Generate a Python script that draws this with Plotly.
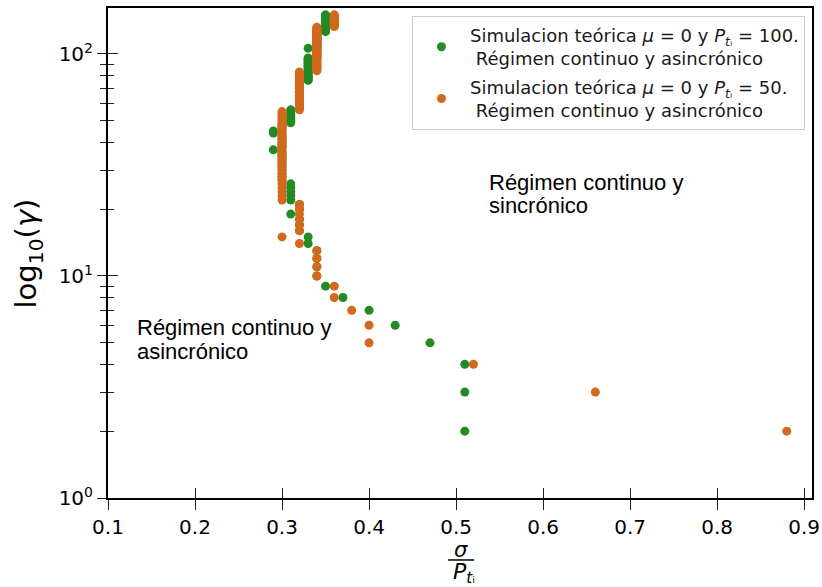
import plotly.graph_objects as go

# Gamma grid shared by both simulations
gamma = [
    2, 3, 4, 5, 6, 7, 8, 9, 10, 11, 12, 13, 14, 15, 16, 17, 18, 19, 20, 21,
    22, 23, 24, 25, 26, 27, 28, 29, 30, 31, 32, 33, 34, 35, 36, 37, 38, 39, 40, 41,
    42, 43, 44, 45, 46, 47, 48, 49, 50, 51, 52, 53, 54, 55, 56, 57, 58, 59, 60, 61,
    62, 63, 64, 65, 66, 67, 68, 69, 70, 71, 72, 73, 74, 75, 76, 77, 78, 79, 80, 81,
    82, 83, 84, 85, 86, 87, 88, 89, 90, 91, 92, 93, 94, 95, 96, 97, 98, 99, 100, 101,
    102, 103, 104, 105, 106, 107, 108, 109, 110, 111, 112, 113, 114, 115, 116, 117, 118, 119, 120, 121,
    122, 123, 124, 125, 126, 127, 128, 129, 130, 131, 132, 133, 134, 135, 136, 137, 138, 139, 140, 141,
    142, 143, 144, 145, 146, 147, 148, 149, 150,
]

# sigma / P_ti threshold for P_ti = 100 (one value per gamma)
ratio_p100 = [
    0.51, 0.51, 0.51, 0.47, 0.43, 0.40, 0.37, 0.35, 0.34, 0.34, 0.34, 0.34, 0.33, 0.33, 0.32, 0.32, 0.32, 0.31, 0.32, 0.32,
    0.31, 0.31, 0.31, 0.31, 0.31, 0.30, 0.30, 0.30, 0.30, 0.30, 0.30, 0.30, 0.30, 0.30, 0.30, 0.29, 0.30, 0.30, 0.30, 0.30,
    0.30, 0.30, 0.29, 0.29, 0.30, 0.30, 0.30, 0.31, 0.31, 0.31, 0.31, 0.31, 0.31, 0.31, 0.31, 0.32, 0.32, 0.32, 0.32, 0.32,
    0.32, 0.32, 0.32, 0.32, 0.32, 0.32, 0.32, 0.32, 0.32, 0.32, 0.32, 0.32, 0.32, 0.32, 0.33, 0.33, 0.33, 0.33, 0.33, 0.33,
    0.33, 0.33, 0.33, 0.33, 0.33, 0.33, 0.33, 0.33, 0.33, 0.33, 0.33, 0.33, 0.33, 0.33, 0.33, 0.34, 0.34, 0.34, 0.34, 0.34,
    0.34, 0.34, 0.34, 0.34, 0.33, 0.34, 0.34, 0.34, 0.34, 0.34, 0.34, 0.34, 0.34, 0.34, 0.34, 0.34, 0.34, 0.34, 0.34, 0.34,
    0.34, 0.34, 0.34, 0.34, 0.35, 0.35, 0.35, 0.35, 0.35, 0.35, 0.35, 0.35, 0.35, 0.35, 0.35, 0.35, 0.35, 0.35, 0.35, 0.35,
    0.35, 0.35, 0.35, 0.35, 0.35, 0.35, 0.35, 0.35, 0.35,
]

# sigma / P_ti threshold for P_ti = 50 (one value per gamma)
ratio_p50 = [
    0.88, 0.66, 0.52, 0.40, 0.40, 0.38, 0.36, 0.36, 0.34, 0.34, 0.34, 0.34, 0.32, 0.30, 0.32, 0.32, 0.32, 0.32, 0.32, 0.32,
    0.30, 0.30, 0.30, 0.30, 0.30, 0.30, 0.30, 0.30, 0.30, 0.30, 0.30, 0.30, 0.30, 0.30, 0.30, 0.30, 0.30, 0.30, 0.30, 0.30,
    0.30, 0.30, 0.30, 0.30, 0.30, 0.30, 0.30, 0.30, 0.30, 0.30, 0.30, 0.30, 0.30, 0.30, 0.32, 0.32, 0.32, 0.32, 0.32, 0.32,
    0.32, 0.32, 0.32, 0.32, 0.32, 0.32, 0.32, 0.32, 0.32, 0.32, 0.32, 0.32, 0.32, 0.32, 0.32, 0.32, 0.32, 0.32, 0.32, 0.32,
    0.32, 0.32, 0.34, 0.34, 0.34, 0.34, 0.34, 0.34, 0.34, 0.34, 0.34, 0.34, 0.34, 0.34, 0.34, 0.34, 0.34, 0.34, 0.34, 0.34,
    0.34, 0.34, 0.34, 0.34, 0.34, 0.34, 0.34, 0.34, 0.34, 0.34, 0.34, 0.34, 0.34, 0.34, 0.34, 0.34, 0.34, 0.34, 0.34, 0.34,
    0.34, 0.34, 0.34, 0.34, 0.34, 0.34, 0.34, 0.34, 0.34, 0.34, 0.34, 0.36, 0.36, 0.36, 0.36, 0.36, 0.36, 0.36, 0.36, 0.36,
    0.36, 0.36, 0.36, 0.36, 0.36, 0.36, 0.36, 0.36, 0.36,
]

x_ticks = [0.1, 0.2, 0.3, 0.4, 0.5, 0.6, 0.7, 0.8, 0.9]
x_tick_labels = ["0.1", "0.2", "0.3", "0.4", "0.5", "0.6", "0.7", "0.8", "0.9"]
y_ticks = [1, 10, 100]
y_tick_labels = ["10<sup>0</sup>", "10<sup>1</sup>", "10<sup>2</sup>"]
y_minor = [2, 3, 4, 5, 6, 7, 8, 9, 20, 30, 40, 50, 60, 70, 80, 90]

GREEN = "#228b22"
ORANGE = "#d2691e"
FONT = "DejaVu Sans"
TEXT_FONT = "Liberation Sans"

X_RANGE = [0.1, 0.909]
Y_RANGE = [0, 2.207]

P_TI = "<i>P</i><sub><i>t</i>ᵢ</sub>"

fig = go.Figure()

fig.add_trace(go.Scatter(
    x=ratio_p100, y=gamma, mode="markers", legendgroup="p100",
    marker=dict(color=GREEN, size=9, line=dict(width=0)),
    name=f"Simulacion teórica <i>μ</i> = 0 y {P_TI} = 100.<br> Régimen continuo y asincrónico",
))
fig.add_trace(go.Scatter(
    x=ratio_p50, y=gamma, mode="markers", legendgroup="p50",
    marker=dict(color=ORANGE, size=9, line=dict(width=0)),
    name=f"Simulacion teórica <i>μ</i> = 0 y {P_TI} = 50.<br> Régimen continuo y asincrónico",
))
# empty trace that carries the inner tick axes
fig.add_trace(go.Scatter(x=[], y=[], xaxis="x2", yaxis="y2", showlegend=False, hoverinfo="skip"))

tick_font = dict(family=FONT, size=20, color="black")

fig.update_layout(
    width=822, height=587,
    margin=dict(l=108, r=10, t=8, b=89, autoexpand=False),
    paper_bgcolor="white", plot_bgcolor="white",
    font=dict(family=FONT, color="black"),
    xaxis=dict(
        range=X_RANGE, tickvals=x_ticks, ticktext=x_tick_labels, automargin=False,
        ticks="outside", ticklen=10, tickwidth=1, tickcolor="#222",
        showline=True, linecolor="black", linewidth=2, mirror=True,
        showgrid=False, zeroline=False, tickfont=tick_font,
    ),
    xaxis2=dict(
        overlaying="x", anchor="y2", side="bottom", range=X_RANGE, tickvals=x_ticks,
        ticks="inside", ticklen=10, tickwidth=1, tickcolor="#222", automargin=False,
        showticklabels=False, showline=False, showgrid=False, zeroline=False,
    ),
    yaxis=dict(
        type="log", range=Y_RANGE, tickvals=y_ticks, ticktext=y_tick_labels, automargin=False,
        ticks="outside", ticklen=9, tickwidth=1, tickcolor="#222",
        minor=dict(ticks="outside", ticklen=6, tickwidth=1, tickcolor="#222",
                   tickvals=y_minor, showgrid=False),
        showline=True, linecolor="black", linewidth=2, mirror=True,
        showgrid=False, zeroline=False, tickfont=tick_font,
    ),
    yaxis2=dict(
        type="log", overlaying="y", anchor="x2", side="left", range=Y_RANGE, tickvals=y_ticks,
        ticks="inside", ticklen=10, tickwidth=1, tickcolor="#222", automargin=False,
        minor=dict(ticks="inside", ticklen=6, tickwidth=1, tickcolor="#222",
                   tickvals=y_minor, showgrid=False),
        showticklabels=False, showline=False, showgrid=False, zeroline=False,
    ),
    legend=dict(
        x=0.990, y=0.984, xanchor="right", yanchor="top",
        bgcolor="white", bordercolor="#cccccc", borderwidth=1,
        font=dict(family=FONT, size=18, color="#1a1a1a"),
        itemwidth=47, tracegroupgap=2,
    ),
    showlegend=True,
)

# axis titles
fig.add_annotation(
    text="log<sub>10</sub>(<i>γ</i>)", textangle=-90, showarrow=False,
    xref="paper", yref="paper", x=-0.113, y=0.5, xanchor="center", yanchor="middle",
    font=dict(family=FONT, size=29, color="black"),
)
fig.add_annotation(
    text="<i>σ</i>", showarrow=False, xref="paper", yref="paper",
    x=0.502, y=-0.106, xanchor="center", yanchor="middle", height=20,
    font=dict(family=FONT, size=21, color="black"),
)
fig.add_shape(
    type="line", xref="paper", yref="paper", x0=0.483, x1=0.520, y0=-0.1265, y1=-0.1265,
    line=dict(color="black", width=1.5),
)
fig.add_annotation(
    text=P_TI, showarrow=False, xref="paper", yref="paper",
    x=0.505, y=-0.153, xanchor="center", yanchor="middle", height=20,
    font=dict(family=FONT, size=22, color="black"),
)

# region labels
region_font = dict(family=TEXT_FONT, size=22, color="black")
for text, xv, ypx in [
    ("Régimen continuo y", 0.5354, 182), ("sincrónico", 0.5354, 206),
    ("Régimen continuo y", 0.131, 327), ("asincrónico", 0.131, 351),
]:
    fig.add_annotation(
        text=text, showarrow=False, xref="x", yref="paper",
        x=xv, y=(498 - ypx) / 490, xanchor="left", yanchor="middle",
        font=region_font,
    )

fig.write_html("out.html")
